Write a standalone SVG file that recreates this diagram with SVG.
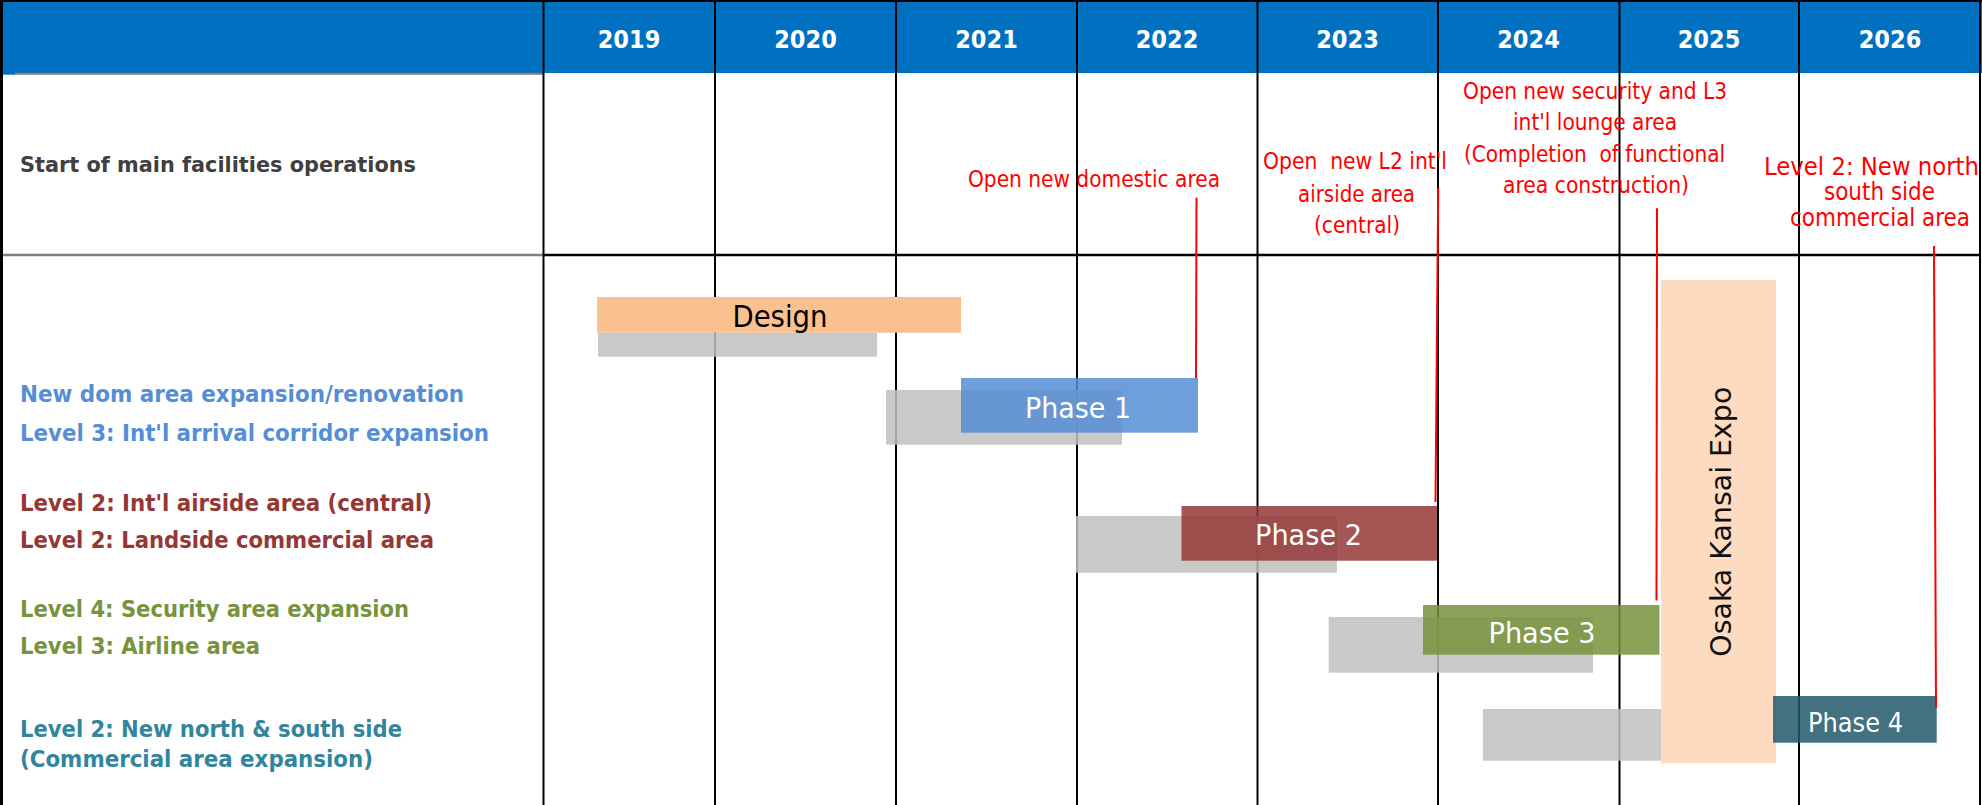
<svg xmlns="http://www.w3.org/2000/svg" width="1982" height="805" viewBox="0 0 1982 805">
<style>
.yr{font-family:'DejaVu Sans Condensed','DejaVu Sans',sans-serif;font-stretch:condensed;font-weight:bold;font-size:25px;fill:#fff;text-anchor:middle}
.lbl{font-family:'DejaVu Sans Condensed','DejaVu Sans',sans-serif;font-stretch:condensed;font-weight:bold;font-size:23.5px}
.ann{font-family:'DejaVu Sans Condensed','DejaVu Sans',sans-serif;font-stretch:condensed;font-size:22.4px;fill:#ff0000;text-anchor:middle}
.ph{font-family:'DejaVu Sans Condensed','DejaVu Sans',sans-serif;font-stretch:condensed;font-size:28px;fill:#fff;text-anchor:middle}
.grid{stroke:#000;stroke-width:2;fill:none}
.gbar{fill:#BFBFBF;opacity:0.85}
.conn{stroke:#ff0000;stroke-width:2;fill:none}
</style>
<rect width="1982" height="805" fill="#fff"/>
<g id="header">
  <rect x="0" y="0" width="1982" height="73" fill="#0070C0"/>
  <rect x="0" y="73" width="15" height="1.7" fill="#0070C0"/>
  <text class="yr" x="629" y="47.5">2019</text>
  <text class="yr" x="805.5" y="47.5">2020</text>
  <text class="yr" x="986.5" y="47.5">2021</text>
  <text class="yr" x="1167" y="47.5">2022</text>
  <text class="yr" x="1347.5" y="47.5">2023</text>
  <text class="yr" x="1528.5" y="47.5">2024</text>
  <text class="yr" x="1709" y="47.5">2025</text>
  <text class="yr" x="1890" y="47.5">2026</text>
</g>
<g id="grid">
  <line x1="15" y1="73.7" x2="543" y2="73.7" stroke="#808080" stroke-width="2"/>
  <line x1="0" y1="255" x2="543" y2="255" stroke="#808080" stroke-width="2.4"/>
  <line x1="543" y1="255" x2="1981" y2="255" stroke="#000" stroke-width="2.6"/>
  <line x1="0" y1="1" x2="1982" y2="1" stroke="#000" stroke-width="2"/>
  <line x1="1.5" y1="0" x2="1.5" y2="805" stroke="#000" stroke-width="3"/>
  <line class="grid" x1="543.5" y1="0" x2="543.5" y2="805"/>
  <line class="grid" x1="715" y1="0" x2="715" y2="805"/>
  <line class="grid" x1="896" y1="0" x2="896" y2="805"/>
  <line class="grid" x1="1077" y1="0" x2="1077" y2="805"/>
  <line class="grid" x1="1257.5" y1="0" x2="1257.5" y2="805"/>
  <line class="grid" x1="1438" y1="0" x2="1438" y2="805"/>
  <line class="grid" x1="1619.5" y1="0" x2="1619.5" y2="805"/>
  <line class="grid" x1="1799" y1="0" x2="1799" y2="805"/>
  <line class="grid" x1="1980" y1="0" x2="1980" y2="805"/>
</g>
<g id="row-label-main">
  <text class="lbl" x="20" y="172" style="font-size:21.5px;fill:#404040" textLength="396" lengthAdjust="spacingAndGlyphs">Start of main facilities operations</text>
</g>
<g id="labels-phase1" fill="#558ED5">
  <text class="lbl" x="20" y="401.7" textLength="444" lengthAdjust="spacingAndGlyphs">New dom area expansion/renovation</text>
  <text class="lbl" x="20" y="440.7" textLength="469" lengthAdjust="spacingAndGlyphs">Level 3: Int'l arrival corridor expansion</text>
</g>
<g id="labels-phase2" fill="#953735">
  <text class="lbl" x="20" y="510.7" textLength="412" lengthAdjust="spacingAndGlyphs">Level 2: Int'l airside area (central)</text>
  <text class="lbl" x="20" y="547.5" textLength="414" lengthAdjust="spacingAndGlyphs">Level 2: Landside commercial area</text>
</g>
<g id="labels-phase3" fill="#77933C">
  <text class="lbl" x="20" y="616.7" textLength="389" lengthAdjust="spacingAndGlyphs">Level 4: Security area expansion</text>
  <text class="lbl" x="20" y="654" textLength="240" lengthAdjust="spacingAndGlyphs">Level 3: Airline area</text>
</g>
<g id="labels-phase4" fill="#31859C">
  <text class="lbl" x="20" y="736.7" textLength="382" lengthAdjust="spacingAndGlyphs">Level 2: New north &amp; south side</text>
  <text class="lbl" x="20" y="767" textLength="353" lengthAdjust="spacingAndGlyphs">(Commercial area expansion)</text>
</g>
<g id="design">
  <rect class="gbar" x="598" y="332.7" width="279" height="24"/>
  <rect x="597" y="297" width="364" height="35.7" fill="#FAC090"/>
  <text class="ph" x="780" y="326.7" style="font-size:29.5px;fill:#000" textLength="95" lengthAdjust="spacingAndGlyphs">Design</text>
</g>
<g id="phase1">
  <rect class="gbar" x="886" y="390" width="236" height="54.7"/>
  <rect x="961" y="378" width="237" height="54.7" fill="#558ED5" opacity="0.85"/>
  <text class="ph" x="1078" y="418.3" textLength="106" lengthAdjust="spacingAndGlyphs">Phase 1</text>
</g>
<g id="phase2">
  <rect class="gbar" x="1076" y="516" width="261" height="56.7"/>
  <rect x="1181.5" y="506" width="255.5" height="54.7" fill="#953735" opacity="0.85"/>
  <text class="ph" x="1308.5" y="545" textLength="107" lengthAdjust="spacingAndGlyphs">Phase 2</text>
</g>
<g id="phase3">
  <rect class="gbar" x="1328.7" y="617" width="264.3" height="55.7"/>
  <rect x="1423" y="605" width="236.5" height="49.7" fill="#77933C" opacity="0.85"/>
  <text class="ph" x="1542" y="643.3" textLength="107" lengthAdjust="spacingAndGlyphs">Phase 3</text>
</g>
<g id="phase4-gray">
  <rect class="gbar" x="1483" y="709" width="179" height="51.7"/>
</g>
<g id="expo">
  <rect x="1661" y="280" width="115" height="483.3" fill="#FCDBC1"/>
  <text transform="translate(1730.7 521.7) rotate(-90)" font-family="'DejaVu Sans',Verdana,sans-serif" font-size="28.4" fill="#111" text-anchor="middle" textLength="270" lengthAdjust="spacingAndGlyphs">Osaka Kansai Expo</text>
</g>
<g id="phase4">
  <rect x="1773" y="696" width="163.7" height="46.7" fill="#215968" opacity="0.85"/>
  <text class="ph" x="1855.5" y="731.7" style="font-size:26.7px" textLength="95" lengthAdjust="spacingAndGlyphs">Phase 4</text>
</g>
<g id="connectors">
  <line class="conn" x1="1196.5" y1="197.7" x2="1196" y2="378"/>
  <line class="conn" x1="1438.2" y1="188" x2="1435.5" y2="502"/>
  <line class="conn" x1="1657" y1="208.3" x2="1656.5" y2="600.5"/>
  <line class="conn" x1="1934" y1="246" x2="1936" y2="708"/>
</g>
<g id="ann-domestic">
  <text class="ann" x="1094" y="186.7" textLength="252" lengthAdjust="spacingAndGlyphs">Open new domestic area</text>
</g>
<g id="ann-airside">
  <text class="ann" x="1355" y="168.5" xml:space="preserve" textLength="184" lengthAdjust="spacingAndGlyphs">Open  new L2 int'l</text>
  <text class="ann" x="1356.5" y="201.7" textLength="117" lengthAdjust="spacingAndGlyphs">airside area</text>
  <text class="ann" x="1357" y="232.5" textLength="86" lengthAdjust="spacingAndGlyphs">(central)</text>
</g>
<g id="ann-security">
  <text class="ann" x="1595" y="99" textLength="264" lengthAdjust="spacingAndGlyphs">Open new security and L3</text>
  <text class="ann" x="1595" y="130" textLength="164" lengthAdjust="spacingAndGlyphs">int'l lounge area</text>
  <text class="ann" x="1594.5" y="162" xml:space="preserve" textLength="261" lengthAdjust="spacingAndGlyphs">(Completion  of functional</text>
  <text class="ann" x="1596" y="193" textLength="186" lengthAdjust="spacingAndGlyphs">area construction)</text>
</g>
<g id="ann-commercial">
  <text class="ann" x="1764" y="174.5" style="font-size:24.5px;text-anchor:start" textLength="240" lengthAdjust="spacingAndGlyphs">Level 2: New north &amp;</text>
  <text class="ann" x="1879.5" y="200" style="font-size:24.5px" textLength="111" lengthAdjust="spacingAndGlyphs">south side</text>
  <text class="ann" x="1880" y="225.7" style="font-size:24.5px" textLength="180" lengthAdjust="spacingAndGlyphs">commercial area</text>
</g>
</svg>
